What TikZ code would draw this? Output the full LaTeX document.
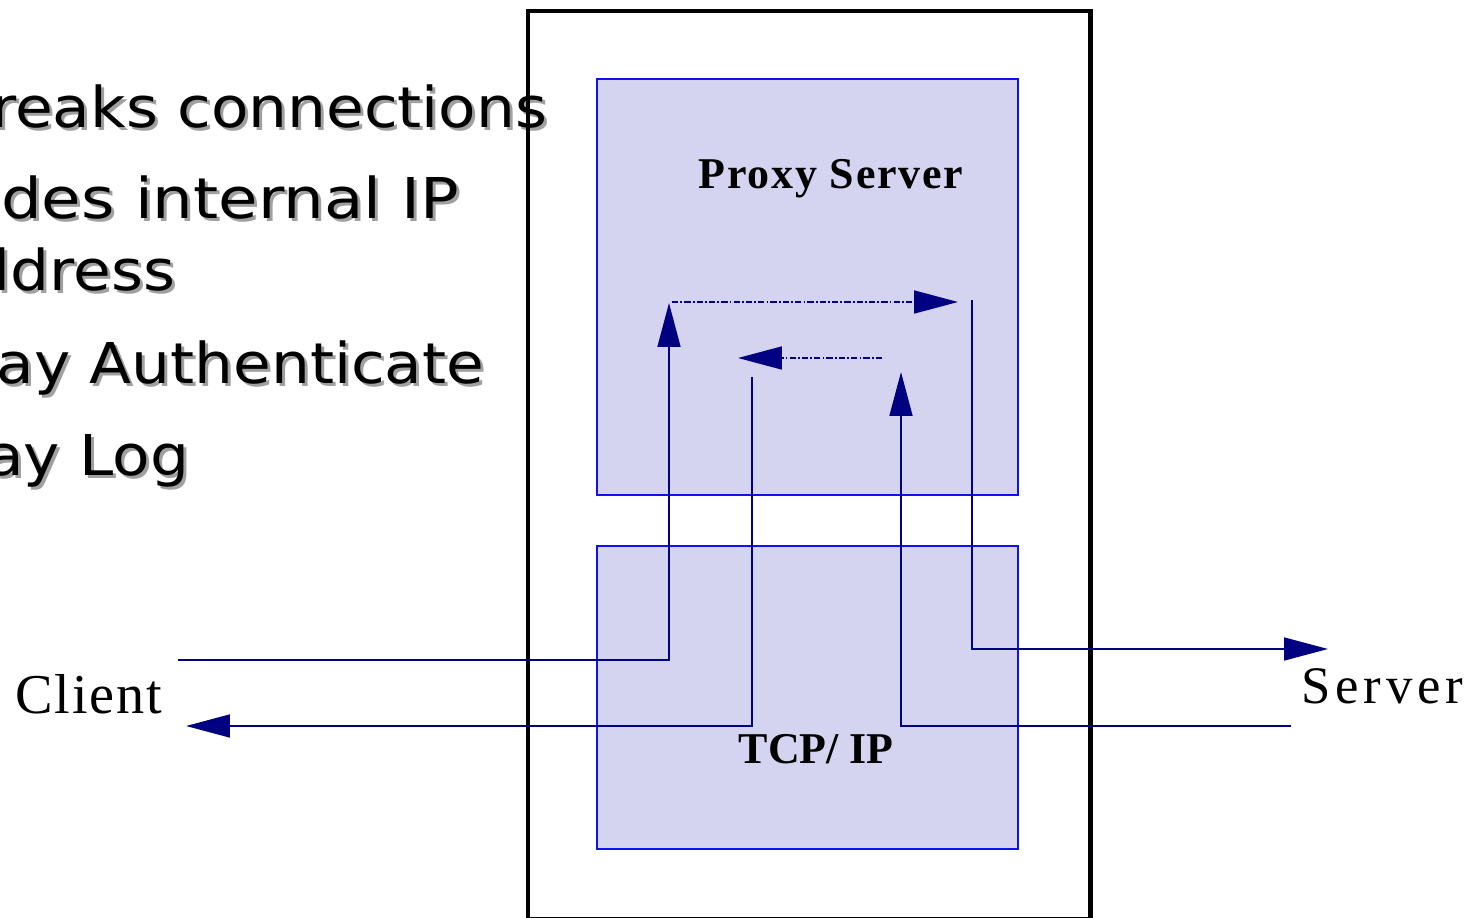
\documentclass[tikz,border=0pt]{standalone}
\usepackage{fontspec}
\setmainfont{Liberation Serif}
\newfontfamily\bulletfont{DejaVu Sans}
\usepackage{tikz}
\usetikzlibrary{arrows.meta}
\definecolor{flownavy}{HTML}{000080}
\definecolor{layerblue}{HTML}{1010F0}
\definecolor{layerfill}{HTML}{D4D4F0}
\definecolor{shadegray}{HTML}{A0A0A0}

\begin{document}
\begin{tikzpicture}[x=0.01cm, y=-0.01cm, >={Triangle[length=12.5pt,width=6.5pt]},
  layer/.style={draw=layerblue, fill=layerfill, line width=0.6pt, inner sep=0, anchor=north west},
  flow/.style={draw=flownavy, line width=0.6pt},
  hop/.style={flow, dash pattern=on 1.8pt off 0.6pt on 0.5pt off 0.6pt}]
\useasboundingbox (0,0) rectangle (1484,918);
\clip (0,0) rectangle (1484,918);
% bullet text, cut at the left edge
\foreach \y/\x/\s/\t in {127/548/1.09/reaks connections, 218/460/1.14/des internal IP, 290/176/1.09/ldress, 383/485/1.09/ay Authenticate, 475/190/1.09/ay Log} {
  \node[font=\bulletfont\fontsize{16}{19}\selectfont, text=shadegray, anchor=base east, inner sep=0] at (\x+3,\y+3) {\scalebox{\s}[1]{\t}};
  \node[font=\bulletfont\fontsize{16}{19}\selectfont, anchor=base east, inner sep=0] (line\y) at (\x,\y) {\scalebox{\s}[1]{\t}};
}
\node[draw, line width=1.2pt, minimum width=5.62cm, minimum height=9.07cm, inner sep=0, anchor=north west] (gateway) at (526,9) {};
\node[layer, minimum width=4.21cm, minimum height=4.16cm] (proxy) at (596,78) {};
\node[layer, minimum width=4.21cm, minimum height=3.03cm] (tcpip) at (596,545) {};
\node[font=\bfseries\fontsize{12.5}{14}\selectfont\addfontfeatures{LetterSpace=4}, anchor=base west, inner sep=0] (proxylabel) at (698,188) {Proxy Server};
\node[font=\bfseries\fontsize{12.5}{14}\selectfont, anchor=base west, inner sep=0] (tcplabel) at (738,763) {TCP/ IP};
\node[font=\fontsize{16}{19}\selectfont\addfontfeatures{LetterSpace=3}, anchor=base west, inner sep=0] (client) at (15,713) {Client};
\node[font=\fontsize{15}{18}\selectfont\addfontfeatures{LetterSpace=9}, anchor=base west, inner sep=0] (server) at (1301,703) {Server};
% request path
\coordinate (c-in) at (178,660);
\coordinate (up-a) at (669,303);
\coordinate (hop-a) at (672,302);
\coordinate (hop-b) at (958,302);
\coordinate (down-a) at (972,300);
\coordinate (s-out) at (1328,649);
\draw[flow, ->] (c-in) -| (up-a);
\draw[hop, ->] (hop-a) -- (hop-b);
\draw[flow, ->] (down-a) |- (s-out);
% reply path
\coordinate (s-in) at (1291,726);
\coordinate (up-b) at (901,372);
\coordinate (hop-c) at (882,358);
\coordinate (hop-d) at (738,358);
\coordinate (down-b) at (752,377);
\coordinate (c-out) at (186,726);
\draw[flow, ->] (s-in) -| (up-b);
\draw[hop, ->] (hop-c) -- (hop-d);
\draw[flow, ->] (down-b) |- (c-out);
\end{tikzpicture}
\end{document}
